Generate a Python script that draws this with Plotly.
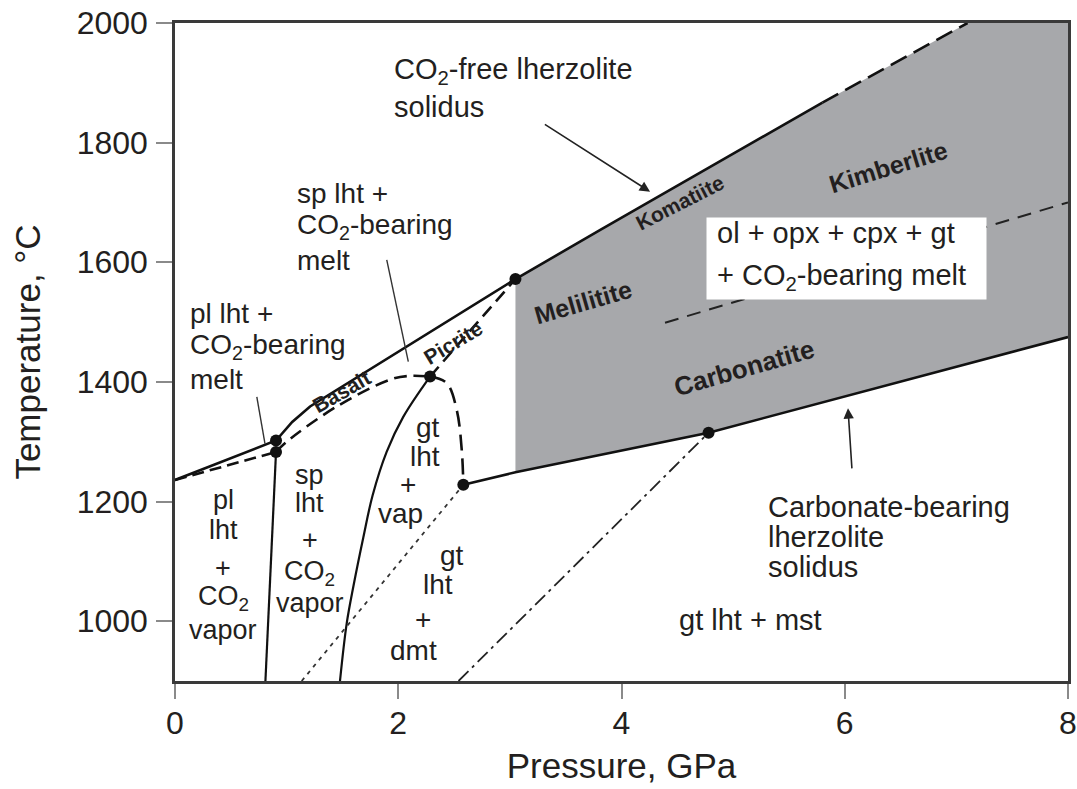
import plotly.graph_objects as go

# ---------------- data (pressure GPa, temperature °C) ----------------
x_range = [0.0, 8.0]
y_range = [900, 2000]
x_ticks = [0, 2, 4, 6, 8]
y_ticks = [1000, 1200, 1400, 1600, 1800, 2000]

# CO2-free lherzolite solidus (solid) and its dashed extrapolation
dry_p = [0.0, 0.905, 1.05, 1.21, 3.05, 3.81, 5.8]
dry_t = [1236, 1302, 1333, 1359, 1572, 1654, 1867]
dry_ext_p = [5.8, 7.1]
dry_ext_t = [1867, 2000]

# carbonated solidus (dashed) at low pressure
carb_low_p = [0.0, 0.905]
carb_low_t = [1236, 1283]

# "Basalt" dashed segment
basalt_p = [0.905, 1.0, 1.45, 1.93, 2.1, 2.285]
basalt_t = [1283, 1300, 1359, 1404, 1410, 1409]

# "Picrite" dashed segment
picrite_p = [2.285, 3.05]
picrite_t = [1409, 1572]

# dashed backbend of the carbonated solidus
bend_p = [2.285, 2.434, 2.524, 2.569, 2.583]
bend_t = [1409, 1398, 1353, 1286, 1228]

# carbonate-bearing lherzolite solidus (solid)
carb_p = [2.583, 3.05, 4.78, 8.0]
carb_t = [1228, 1249, 1315, 1475]

# dashed boundary inside the melt field
melt_p = [4.39, 8.0]
melt_t = [1499, 1700]

# plagioclase / spinel lherzolite boundary
plsp_p = [0.905, 0.81]
plsp_t = [1283, 900]

# spinel / garnet lherzolite boundary
spgt_p = [2.285, 2.046, 1.896, 1.77, 1.687, 1.6, 1.538, 1.478]
spgt_t = [1409, 1342, 1283, 1210, 1140, 1060, 996, 900]

# dolomite-in (dotted) and magnesite-in (dash-dot) reactions
dmt_p = [1.135, 2.583]
dmt_t = [900, 1228]
mst_p = [2.54, 4.78]
mst_t = [900, 1315]

# invariant points
inv_p = [0.905, 0.905, 2.285, 2.583, 3.05, 4.78]
inv_t = [1302, 1283, 1409, 1228, 1572, 1315]

# leader lines
pl_lead_p = [0.733, 0.806]
pl_lead_t = [1375, 1297]
sp_lead_p = [1.897, 2.09]
sp_lead_t = [1604, 1434]

# left edge of shaded melt field
mel_left = 3.05

# ---------------- figure ----------------
FONT = "Liberation Sans, Arial, Helvetica, sans-serif"
TXT = "#231f20"
BLK = "#111111"
fig = go.Figure()

# shaded field built from the bounding curves
poly_p = [p for p in carb_p if p >= mel_left] + [x_range[1]] + list(reversed(dry_ext_p)) + \
         [p for p in reversed(dry_p) if p >= mel_left]
poly_t = [t for p, t in zip(carb_p, carb_t) if p >= mel_left] + [y_range[1]] + list(reversed(dry_ext_t)) + \
         [t for p, t in zip(reversed(dry_p), reversed(dry_t)) if p >= mel_left]
fig.add_trace(go.Scatter(x=poly_p, y=poly_t, fill="toself", fillcolor="#a7a8ab",
                         line=dict(width=0), mode="lines", hoverinfo="skip"))


def line(p, t, dash="solid", width=2.6, shape="linear", color=BLK):
    fig.add_trace(go.Scatter(x=p, y=t, mode="lines",
                             line=dict(color=color, width=width, dash=dash, shape=shape, smoothing=1.0),
                             hoverinfo="skip"))


line(dry_p, dry_t)
line(dry_ext_p, dry_ext_t, dash="18px,8px")
line(carb_low_p, carb_low_t, dash="12px,6px")
line(basalt_p, basalt_t, dash="13px,7px", shape="spline")
line(picrite_p, picrite_t, dash="13px,7px")
line(bend_p, bend_t, dash="16px,8px", shape="spline")
line(carb_p, carb_t)
line(melt_p, melt_t, dash="14px,9px", width=2.0, color="#222")
line(plsp_p, plsp_t, width=2.2)
line(spgt_p, spgt_t, width=2.2, shape="spline")
line(dmt_p, dmt_t, dash="4px,5px", width=1.8, color="#333")
line(mst_p, mst_t, dash="14px,5px,3px,5px", width=1.8, color="#222")
line(pl_lead_p, pl_lead_t, width=1.4, color="#333")
line(sp_lead_p, sp_lead_t, width=1.4, color="#333")

fig.add_trace(go.Scatter(x=inv_p, y=inv_t, mode="markers",
                         marker=dict(color=BLK, size=12), hoverinfo="skip"))

ann = []


def text(x, y, s, size=28, xanchor="center", angle=0, bold=False):
    ann.append(dict(x=x, y=y, xref="x", yref="y", text=("<b>%s</b>" % s) if bold else s,
                    showarrow=False, xanchor=xanchor, yanchor="middle", textangle=angle,
                    font=dict(family=FONT, size=size, color=TXT)))


# white box behind the melt-field label
ann.append(dict(x=4.757, y=1675.7, xref="x", yref="y", text="&nbsp;", showarrow=False,
                xanchor="left", yanchor="top", width=279, height=81, borderpad=0,
                bgcolor="white", font=dict(size=10)))

# region labels
text(1.944, 1919.8, "CO<sub>2</sub>-free lherzolite", xanchor="left", size=29)
text(1.944, 1859.6, "solidus", xanchor="left", size=29)

text(1.075, 1715.8, "sp lht +", xanchor="left")
text(1.075, 1660.6, "CO<sub>2</sub>-bearing", xanchor="left")
text(1.075, 1603.8, "melt", xanchor="left")

text(0.116, 1515.2, "pl lht +", xanchor="left")
text(0.116, 1458.4, "CO<sub>2</sub>-bearing", xanchor="left")
text(0.116, 1403.2, "melt", xanchor="left")

for s, y in zip(["pl", "lht", "+", "CO<sub>2</sub>", "vapor"], [1202.6, 1152.4, 1088.9, 1038.8, 985.3]):
    text(0.43, y, s, size=27)
for s, y in zip(["sp", "lht", "+", "CO<sub>2</sub>", "vapor"], [1244.4, 1197.6, 1135.7, 1080.5, 1030.4]):
    text(1.209, y, s, size=27)

text(2.267, 1323, "gt")
text(2.240, 1274.5, "lht")
text(2.087, 1227.7, "+")
text(2.016, 1180.8, "vap")

text(2.484, 1110.6, "gt")
text(2.359, 1062, "lht")
text(2.225, 1002, "+")
text(2.135, 950.7, "dmt")

text(5.160, 1002, "gt lht + mst", size=29)

text(5.295, 1191.4, "Carbonate-bearing", xanchor="left", size=29)
text(5.295, 1141.2, "lherzolite", xanchor="left", size=29)
text(5.295, 1091.1, "solidus", xanchor="left", size=29)

text(4.838, 1648.9, "ol + opx + cpx + gt", xanchor="left", size=29)
text(4.838, 1575.4, "+ CO<sub>2</sub>-bearing melt", xanchor="left", size=29)

# rock names along the solidi
text(1.493, 1383.6, "Basalt", size=21, angle=-30, bold=True)
text(2.493, 1465.9, "Picrite", size=21, angle=-31, bold=True)
text(4.524, 1700, "Komatiite", size=21, angle=-27, bold=True)
text(6.387, 1759.8, "Kimberlite", size=25, angle=-17, bold=True)
text(3.658, 1534, "Melilitite", size=25, angle=-16, bold=True)
text(5.097, 1422.7, "Carbonatite", size=26, angle=-16, bold=True)

# arrows
for (tx, ty, hx, hy) in [(3.30, 1832, 4.256, 1718), (6.065, 1253, 6.029, 1356)]:
    ann.append(dict(x=hx, y=hy, ax=tx, ay=ty, xref="x", yref="y", axref="x", ayref="y",
                    text="", showarrow=True, arrowhead=2, arrowsize=1.3, arrowwidth=1.6,
                    arrowcolor="#222", standoff=0))

fig.update_layout(
    width=1077, height=789,
    margin=dict(l=175, r=9, t=23, b=108, autoexpand=False),
    paper_bgcolor="white", plot_bgcolor="white",
    showlegend=False,
    annotations=ann,
    font=dict(family=FONT, color=TXT),
    xaxis=dict(range=x_range, tickvals=x_ticks, showgrid=False, zeroline=False, automargin=False,
               showline=True, mirror=True, linecolor="#3a3a3a", linewidth=2.5,
               ticks="outside", ticklen=15, tickwidth=2, tickcolor="#8a8a8a",
               ticklabeloverflow="allow",
               tickfont=dict(size=32, family=FONT, color=TXT), ticklabelstandoff=-3,
               title=dict(text="Pressure, GPa", font=dict(size=35, family=FONT, color=TXT), standoff=14)),
    yaxis=dict(range=y_range, tickvals=y_ticks, showgrid=False, zeroline=False, automargin=False,
               showline=True, mirror=True, linecolor="#3a3a3a", linewidth=2.5,
               ticks="outside", ticklen=16, tickwidth=2, tickcolor="#8a8a8a",
               ticklabeloverflow="allow",
               tickfont=dict(size=32, family=FONT, color=TXT), ticklabelstandoff=2,
               title=dict(text="Temperature, °C", font=dict(size=35, family=FONT, color=TXT), standoff=26)),
)

# remove the default page margin so the figure fills the window exactly
fig.write_html("out.html", config={"displayModeBar": False},
               post_script="document.body.style.margin='0';")
